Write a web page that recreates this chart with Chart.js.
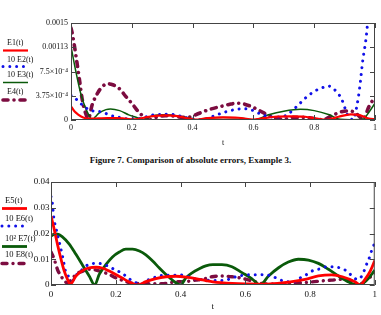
<!DOCTYPE html>
<html>
<head>
<meta charset="utf-8">
<script src="https://cdn.jsdelivr.net/npm/chart.js@4.4.1/dist/chart.umd.min.js"></script>
<style>
  html, body { margin: 0; padding: 0; background: #fff; }
  body { width: 381px; height: 315px; position: relative; overflow: hidden; font-family: "Liberation Serif", serif; }
  canvas { position: absolute; left: 0; }
  #top { top: 0; }
  #bottom { top: 165px; }
  #caption { position: absolute; left: 0; width: 381px; top: 153.5px; text-align: center; font-weight: bold; font-size: 9px; line-height: 12px; color: #111; }
</style>
</head>
<body>
<canvas id="top" width="381" height="150"></canvas>
<div id="caption">Figure 7. Comparison of absolute errors, Example 3.</div>
<canvas id="bottom" width="381" height="150"></canvas>
<script>
// axis ticks and legend texts
const xTicks = [0, 0.2, 0.4, 0.6, 0.8, 1];
const xTickLabels = ['0', '0.2', '0.4', '0.6', '0.8', '1'];
const topYTicks = [0, 0.000375, 0.00075, 0.001125, 0.0015];
const topYTickLabels = ['0', '3.75×10⁻⁴', '7.5×10⁻⁴', '0.00113', '0.0015'];
const botYTicks = [0, 0.01, 0.02, 0.03, 0.04];
const botYTickLabels = ['0', '0.01', '0.02', '0.03', '0.04'];
const topLegend = ['E1(t)', '10 E2(t)', '10 E3(t)', 'E4(t)'];
const botLegend = ['E5(t)', '10 E6(t)', '10² E7(t)', '10 E8(t)'];

// top plot
const e1T = [0, 0.012, 0.025, 0.04, 0.06, 0.09, 0.12, 0.15, 0.18, 0.21, 0.24, 0.27, 0.31, 0.35, 0.38, 0.41, 0.45, 0.5, 0.55, 0.6, 0.63, 0.67, 0.72, 0.77, 0.81, 0.84, 0.88, 0.92, 0.95, 0.98, 1];
const e1V = [2.1e-4, 1.3e-4, 0.8e-4, 0.4e-4, 0.2e-4, 0.25e-4, 0.3e-4, 0.3e-4, 0.2e-4, 0.1e-4, 0.35e-4, 0.6e-4, 0.7e-4, 0.6e-4, 0.3e-4, 0.05e-4, 0.3e-4, 0.42e-4, 0.35e-4, 0.05e-4, 0.25e-4, 0.5e-4, 0.57e-4, 0.5e-4, 0.2e-4, 0.02e-4, 0.5e-4, 0.88e-4, 0.75e-4, 0.2e-4, 0.15e-4];

const e2T = [0, 0.015, 0.033, 0.05, 0.066, 0.088, 0.11, 0.13, 0.15, 0.17, 0.19, 0.21, 0.235, 0.26, 0.285, 0.31, 0.335, 0.36, 0.38, 0.4, 0.425, 0.446, 0.478, 0.512, 0.545, 0.567, 0.594, 0.62, 0.653, 0.687, 0.709, 0.742, 0.77, 0.803, 0.83, 0.846, 0.862, 0.89, 0.91, 0.928, 0.94, 0.95, 0.96, 0.97, 0.98, 0.99, 1];
const e2V = [3.8e-4, 3.3e-4, 2.5e-4, 1.85e-4, 1.45e-4, 1.35e-4, 1.1e-4, 0.7e-4, 0.5e-4, 0.3e-4, 0.15e-4, 0.2e-4, 0.3e-4, 0.7e-4, 0.85e-4, 0.88e-4, 0.85e-4, 0.6e-4, 0.35e-4, 0.15e-4, 0.05e-4, 0.2e-4, 0.77e-4, 1.3e-4, 1.65e-4, 1.75e-4, 1.55e-4, 1.0e-4, 0.5e-4, 0.45e-4, 0.75e-4, 2.06e-4, 3.35e-4, 4.5e-4, 5.05e-4, 5.26e-4, 4.9e-4, 3.25e-4, 0.77e-4, 0.05e-4, 2.06e-4, 5.15e-4, 9.3e-4, 12.4e-4, 17e-4, 21e-4, 25e-4];

const e3T = [0, 0.016, 0.033, 0.05, 0.062, 0.07, 0.08, 0.093, 0.115, 0.13, 0.16, 0.19, 0.22, 0.235, 0.25, 0.27, 0.31, 0.356, 0.39, 0.41, 0.44, 0.5, 0.55, 0.6, 0.65, 0.7, 0.755, 0.8, 0.85, 0.885, 0.92, 0.96, 0.98, 1];
const e3V = [11.4e-4, 7.5e-4, 3.9e-4, 1.6e-4, 0.5e-4, 0, 0.5e-4, 1.1e-4, 1.6e-4, 1.7e-4, 1.45e-4, 0.8e-4, 0.3e-4, 0, 0.3e-4, 0.67e-4, 0.8e-4, 0.6e-4, 0.3e-4, 0, 0.25e-4, 0.4e-4, 0.35e-4, 0, 0.8e-4, 1.35e-4, 1.65e-4, 1.45e-4, 0.8e-4, 0.1e-4, 0.05e-4, 0.1e-4, 1.2e-4, 2.6e-4];

const e4T = [0, 0.005, 0.016, 0.027, 0.038, 0.05, 0.057, 0.07, 0.088, 0.104, 0.12, 0.137, 0.159, 0.18, 0.203, 0.225, 0.247, 0.258, 0.28, 0.31, 0.34, 0.367, 0.39, 0.42, 0.45, 0.49, 0.52, 0.545, 0.567, 0.594, 0.62, 0.648, 0.675, 0.7, 0.73, 0.77, 0.8, 0.83, 0.862, 0.906, 0.928, 0.95, 0.96, 0.98, 1];
const e4V = [14.2e-4, 13.2e-4, 10.0e-4, 6.5e-4, 2.9e-4, 0.8e-4, 0.2e-4, 2.4e-4, 4.2e-4, 5.2e-4, 5.6e-4, 5.45e-4, 4.85e-4, 3.66e-4, 2.4e-4, 1.1e-4, 0.3e-4, 0, 0.4e-4, 0.67e-4, 0.6e-4, 0.4e-4, 0.45e-4, 1.0e-4, 1.55e-4, 2.06e-4, 2.4e-4, 2.6e-4, 2.5e-4, 2.06e-4, 1.45e-4, 0.77e-4, 0.26e-4, 0.1e-4, 0.4e-4, 0.4e-4, 0.2e-4, 0.05e-4, 0.77e-4, 1.4e-4, 1.3e-4, 0.5e-4, 0.05e-4, 2.06e-4, 3.6e-4];

// bottom plot
const e5T = [0, 0.01, 0.02, 0.031, 0.041, 0.051, 0.06, 0.077, 0.098, 0.118, 0.139, 0.16, 0.18, 0.2, 0.221, 0.242, 0.267, 0.293, 0.324, 0.355, 0.386, 0.417, 0.447, 0.478, 0.5, 0.56, 0.62, 0.66, 0.7, 0.74, 0.785, 0.826, 0.867, 0.9, 0.94, 0.955, 0.97, 0.986, 1];
const e5V = [0.0268, 0.0216, 0.0158, 0.010, 0.0054, 0.0022, 0.0003, 0.0035, 0.0057, 0.0067, 0.0069, 0.0065, 0.0054, 0.0041, 0.0026, 0.0012, 0, 0.0013, 0.0025, 0.0032, 0.0034, 0.0031, 0.0025, 0.0017, 0.0012, 0.0006, 0.0004, 0.0003, 0.0006, 0.0012, 0.0022, 0.0035, 0.0039, 0.0032, 0.0012, 0, 0.0022, 0.0054, 0.0095];

const e6T = [0, 0.005, 0.007, 0.01, 0.015, 0.021, 0.026, 0.036, 0.046, 0.057, 0.067, 0.077, 0.087, 0.108, 0.134, 0.154, 0.175, 0.195, 0.216, 0.231, 0.247, 0.262, 0.283, 0.303, 0.324, 0.35, 0.375, 0.396, 0.417, 0.437, 0.458, 0.478, 0.5, 0.538, 0.579, 0.62, 0.641, 0.682, 0.703, 0.723, 0.749, 0.77, 0.79, 0.811, 0.832, 0.852, 0.873, 0.893, 0.914, 0.93, 0.945, 0.96, 0.976, 0.986, 0.993, 1];
const e6V = [0.0343, 0.031, 0.028, 0.025, 0.0223, 0.019, 0.0164, 0.0109, 0.0048, 0.0031, 0.0018, 0.0038, 0.0048, 0.0074, 0.0084, 0.0083, 0.0074, 0.0061, 0.0048, 0.0035, 0.0019, 0.0009, 0.0006, 0.0022, 0.0031, 0.0038, 0.0037, 0.004, 0.0035, 0.0026, 0.0022, 0.0019, 0.0017, 0.0019, 0.0035, 0.004, 0.004, 0.0035, 0.0022, 0.0014, 0.0012, 0.0028, 0.0041, 0.0057, 0.0063, 0.0071, 0.0071, 0.0066, 0.0054, 0.0035, 0.0022, 0.0035, 0.0084, 0.0115, 0.0145, 0.016];

const e7T = [0, 0.01, 0.02, 0.036, 0.057, 0.077, 0.098, 0.118, 0.135, 0.149, 0.17, 0.19, 0.211, 0.231, 0.252, 0.273, 0.293, 0.314, 0.334, 0.355, 0.375, 0.4, 0.417, 0.437, 0.458, 0.478, 0.5, 0.528, 0.559, 0.59, 0.62, 0.646, 0.672, 0.703, 0.733, 0.764, 0.795, 0.826, 0.857, 0.888, 0.919, 0.945, 0.965, 0.98, 1];
const e7V = [0.019, 0.0197, 0.0197, 0.0186, 0.0158, 0.0119, 0.0076, 0.0035, 0, 0.0041, 0.008, 0.0109, 0.0128, 0.0139, 0.0139, 0.0132, 0.0117, 0.0093, 0.0067, 0.0041, 0.0019, 0, 0.0028, 0.0048, 0.0063, 0.0074, 0.0079, 0.0079, 0.0071, 0.0048, 0.0025, 0, 0.0035, 0.0067, 0.0089, 0.01, 0.0097, 0.0084, 0.0061, 0.0035, 0.0012, 0, 0.0008, 0.0025, 0.0058];

const e8T = [0, 0.01, 0.015, 0.02, 0.031, 0.041, 0.051, 0.062, 0.077, 0.098, 0.118, 0.139, 0.16, 0.18, 0.2, 0.221, 0.242, 0.262, 0.3, 0.34, 0.386, 0.427, 0.447, 0.468, 0.497, 0.528, 0.559, 0.59, 0.62, 0.651, 0.682, 0.72, 0.775, 0.806, 0.837, 0.867, 0.898, 0.929, 0.95, 0.97, 0.986, 1];
const e8V = [0.0128, 0.010, 0.008, 0.006, 0.0035, 0.0016, 0.0009, 0.0019, 0.0041, 0.0054, 0.0061, 0.0058, 0.005, 0.0041, 0.0028, 0.0018, 0.0009, 0.0006, 0.0005, 0.0005, 0.0012, 0.0015, 0.0019, 0.0022, 0.0032, 0.0035, 0.0032, 0.0026, 0.0016, 0.0006, 0.0004, 0.0004, 0.0009, 0.0012, 0.0016, 0.0019, 0.0022, 0.0016, 0, 0.0016, 0.0031, 0.0048];

const FONT = '"Liberation Serif", "Times New Roman", serif';
const RED = '#ff0000', BLUE = '#1010e8', GREEN = '#0a5a0a', MAROON = '#7c0c40';

function series(label, t, v, style) {
    return Object.assign({
        label: label,
        data: t.map((x, i) => ({x: x, y: v[i]})),
        pointRadius: 0,
        fill: false,
        cubicInterpolationMode: 'monotone'
    }, style);
}

// legend on the left: label text above a sample of the line
const sideLegend = {
    id: 'sideLegend',
    afterDraw(chart, args, opts) {
        const ctx = chart.ctx;
        ctx.save();
        chart.data.datasets.forEach((ds, i) => {
            ctx.font = opts.fontSize + 'px ' + FONT;
            ctx.fillStyle = '#111';
            ctx.textAlign = 'left';
            ctx.textBaseline = 'middle';
            ctx.fillText(ds.label, opts.textX, opts.textY[i]);
            ctx.beginPath();
            ctx.strokeStyle = ds.borderColor;
            ctx.lineWidth = ds.borderWidth;
            ctx.setLineDash(ds.borderDash || []);
            ctx.lineCap = ds.borderCapStyle || 'butt';
            ctx.moveTo(opts.x0, opts.lineY[i]);
            ctx.lineTo(opts.x1, opts.lineY[i]);
            ctx.stroke();
        });
        ctx.restore();
    }
};

// box round the plot with short inward ticks on all four sides
const frame = {
    id: 'frame',
    afterDatasetsDraw(chart) {
        const {ctx, chartArea: a, scales} = chart;
        ctx.save();
        ctx.strokeStyle = '#444';
        ctx.lineWidth = 1;
        ctx.setLineDash([]);
        ctx.strokeRect(a.left + 0.5, a.top + 0.5, a.width - 1, a.height - 1);
        ctx.beginPath();
        scales.x.ticks.forEach(t => {
            const px = Math.round(scales.x.getPixelForValue(t.value)) + 0.5;
            ctx.moveTo(px, a.top); ctx.lineTo(px, a.top + 5);
            ctx.moveTo(px, a.bottom); ctx.lineTo(px, a.bottom - 5);
        });
        scales.y.ticks.forEach(t => {
            const py = Math.round(scales.y.getPixelForValue(t.value)) + 0.5;
            ctx.moveTo(a.left, py); ctx.lineTo(a.left + 5, py);
            ctx.moveTo(a.right, py); ctx.lineTo(a.right - 5, py);
        });
        ctx.stroke();
        ctx.restore();
    }
};

function makeScales(c) {
    return {
        x: {
            type: 'linear', min: 0, max: 1,
            grid: {display: false, drawTicks: false}, border: {display: false},
            afterBuildTicks: s => { s.ticks = xTicks.map(v => ({value: v})); },
            afterFit: s => { s.height = c.xHeight; },
            ticks: {
                padding: c.xPad, color: '#111', maxRotation: 0, autoSkip: false,
                font: {family: FONT, size: c.fontSize},
                callback: (v, i) => xTickLabels[i]
            },
            title: {
                display: true, text: 't', color: '#111',
                font: {family: FONT, size: c.fontSize},
                padding: {top: 0, bottom: c.titlePad}
            }
        },
        y: {
            type: 'linear', min: 0, max: c.yMax,
            grid: {display: false, drawTicks: false}, border: {display: false},
            afterBuildTicks: s => { s.ticks = c.yTicks.map(v => ({value: v})); },
            afterFit: s => { s.width = c.yWidth; },
            ticks: {
                padding: c.yPad, color: '#111', autoSkip: false,
                font: {family: FONT, size: c.fontSize},
                callback: (v, i) => c.yLabels[i]
            }
        }
    };
}

const dotted = {borderColor: BLUE, borderWidth: 3, borderDash: [0.01, 6.8], borderCapStyle: 'round'};

new Chart(document.getElementById('top'), {
    type: 'line',
    data: {
        datasets: [
            series(topLegend[0], e1T, e1V, {borderColor: RED, borderWidth: 2.2}),
            series(topLegend[1], e2T, e2V, dotted),
            series(topLegend[2], e3T, e3V, {borderColor: GREEN, borderWidth: 1.5}),
            series(topLegend[3], e4T, e4V, {borderColor: MAROON, borderWidth: 3.6, borderDash: [5, 6, 0.01, 6], borderCapStyle: 'round'})
        ]
    },
    options: {
        responsive: false, animation: false,
        layout: {padding: {top: 23, right: 6, left: 0, bottom: 0}},
        scales: makeScales({xHeight: 30, yWidth: 71, xPad: 3.5, yPad: 3, titlePad: 2, fontSize: 8,
            yMax: 0.0015, yTicks: topYTicks, yLabels: topYTickLabels}),
        plugins: {
            legend: {display: false}, tooltip: {enabled: false},
            sideLegend: {fontSize: 8, textX: 7, textY: [43, 60, 75, 91.5], lineY: [50.5, 66.5, 82.5, 100], x0: 3, x1: 28}
        }
    },
    plugins: [frame, sideLegend]
});

new Chart(document.getElementById('bottom'), {
    type: 'line',
    data: {
        datasets: [
            series(botLegend[0], e5T, e5V, {borderColor: RED, borderWidth: 2.8}),
            series(botLegend[1], e6T, e6V, dotted),
            series(botLegend[2], e7T, e7V, {borderColor: GREEN, borderWidth: 2.8}),
            series(botLegend[3], e8T, e8V, {borderColor: MAROON, borderWidth: 3.4, borderDash: [5, 6, 0.01, 6], borderCapStyle: 'round'})
        ]
    },
    options: {
        responsive: false, animation: false,
        layout: {padding: {top: 17, right: 6, left: 0, bottom: 0}},
        scales: makeScales({xHeight: 30, yWidth: 51, xPad: 4, yPad: 1.5, titlePad: 3, fontSize: 9,
            yMax: 0.04, yTicks: botYTicks, yLabels: botYTickLabels}),
        plugins: {
            legend: {display: false}, tooltip: {enabled: false},
            sideLegend: {fontSize: 8.5, textX: 5, textY: [36, 53.5, 73.5, 90], lineY: [43.5, 61, 81.5, 98.5], x0: 2, x1: 27}
        }
    },
    plugins: [frame, sideLegend]
});
</script>
</body>
</html>
